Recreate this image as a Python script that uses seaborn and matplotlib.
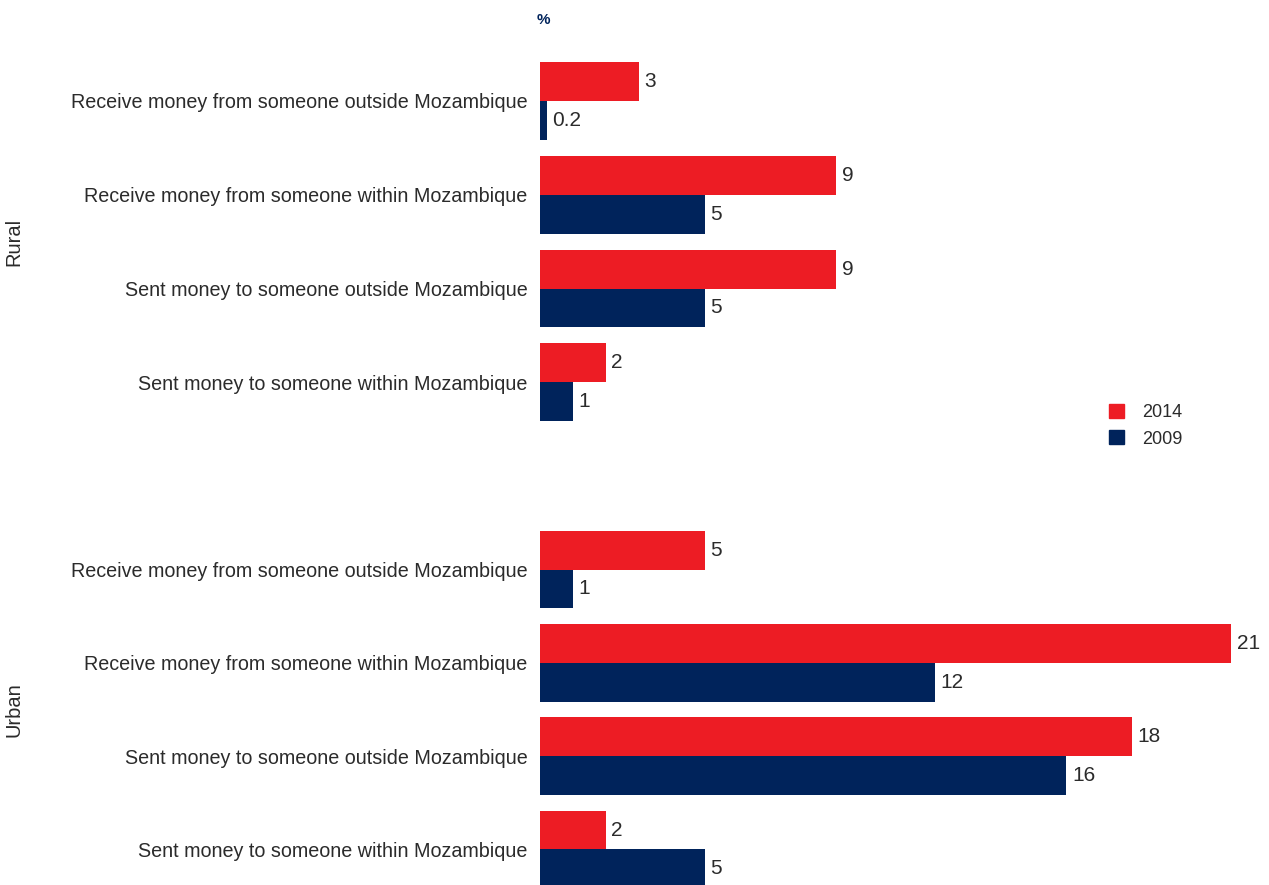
import pandas as pd
import matplotlib.pyplot as plt
from matplotlib.patches import Patch
import seaborn as sns

# === Data ===
categories = [
    "Receive money from someone outside Mozambique",
    "Receive money from someone within Mozambique",
    "Sent money to someone outside Mozambique",
    "Sent money to someone within Mozambique",
]
years = ["2014", "2009"]
rural_2014 = [3, 9, 9, 2]
rural_2009 = [0.2, 5, 5, 1]
urban_2014 = [5, 21, 18, 2]
urban_2009 = [1, 12, 16, 5]

RED = "#ED1C24"
NAVY = "#00235B"
TEXT = "#2b2b2b"

rows = []
for area, v14, v09 in [("Rural", rural_2014, rural_2009), ("Urban", urban_2014, urban_2009)]:
    for cat, a, b in zip(categories, v14, v09):
        rows.append({"area": area, "category": cat, "year": "2014", "value": a})
        rows.append({"area": area, "category": cat, "year": "2009", "value": b})
df = pd.DataFrame(rows)

sns.set_style("white")
plt.rcParams["font.family"] = ["Liberation Sans", "DejaVu Sans"]

fig = plt.figure(figsize=(12.69, 8.85), dpi=100)
left = 540 / 1269
width = 1231 / 1269 - left
ax_r = fig.add_axes([left, 0.515, width, 0.939 - 0.515])
ax_u = fig.add_axes([left, -0.0124, width, 0.409 + 0.0124])

for ax, area in [(ax_r, "Rural"), (ax_u, "Urban")]:
    sns.barplot(
        data=df[df["area"] == area],
        y="category",
        x="value",
        hue="year",
        hue_order=years,
        order=categories,
        palette=[RED, NAVY],
        width=0.83,
        saturation=1,
        linewidth=0,
        legend=False,
        ax=ax,
    )
    for c in ax.containers:
        ax.bar_label(c, fmt="{:g}", padding=4, fontsize=15, color=TEXT, clip_on=False)
    ax.set_xlim(0, 21)
    ax.set_ylim(3.5, -0.5)
    sns.despine(ax=ax, left=True, bottom=True)
    ax.set_xticks([])
    ax.set_xlabel("")
    ax.set_ylabel(area, fontsize=14.5, color=TEXT)
    ax.yaxis.set_label_coords(-0.748, 0.5)
    ax.tick_params(axis="y", length=0, pad=9, labelsize=14.2, labelcolor=TEXT)

# legend
handles = [Patch(color=RED, label="2014"), Patch(color=NAVY, label="2009")]
fig.legend(
    handles=handles,
    loc="upper left",
    bbox_to_anchor=(1093 / 1269, 1 - 388 / 885),
    frameon=False,
    fontsize=13,
    handlelength=0.8,
    handleheight=0.8,
    handletextpad=1.0,
    labelspacing=0.5,
    labelcolor=TEXT,
)

fig.text(543 / 1269, 1 - 20 / 885, "%", color=NAVY, fontsize=11, fontweight="bold",
         ha="center", va="center")

fig.savefig("out.png", dpi=100)
